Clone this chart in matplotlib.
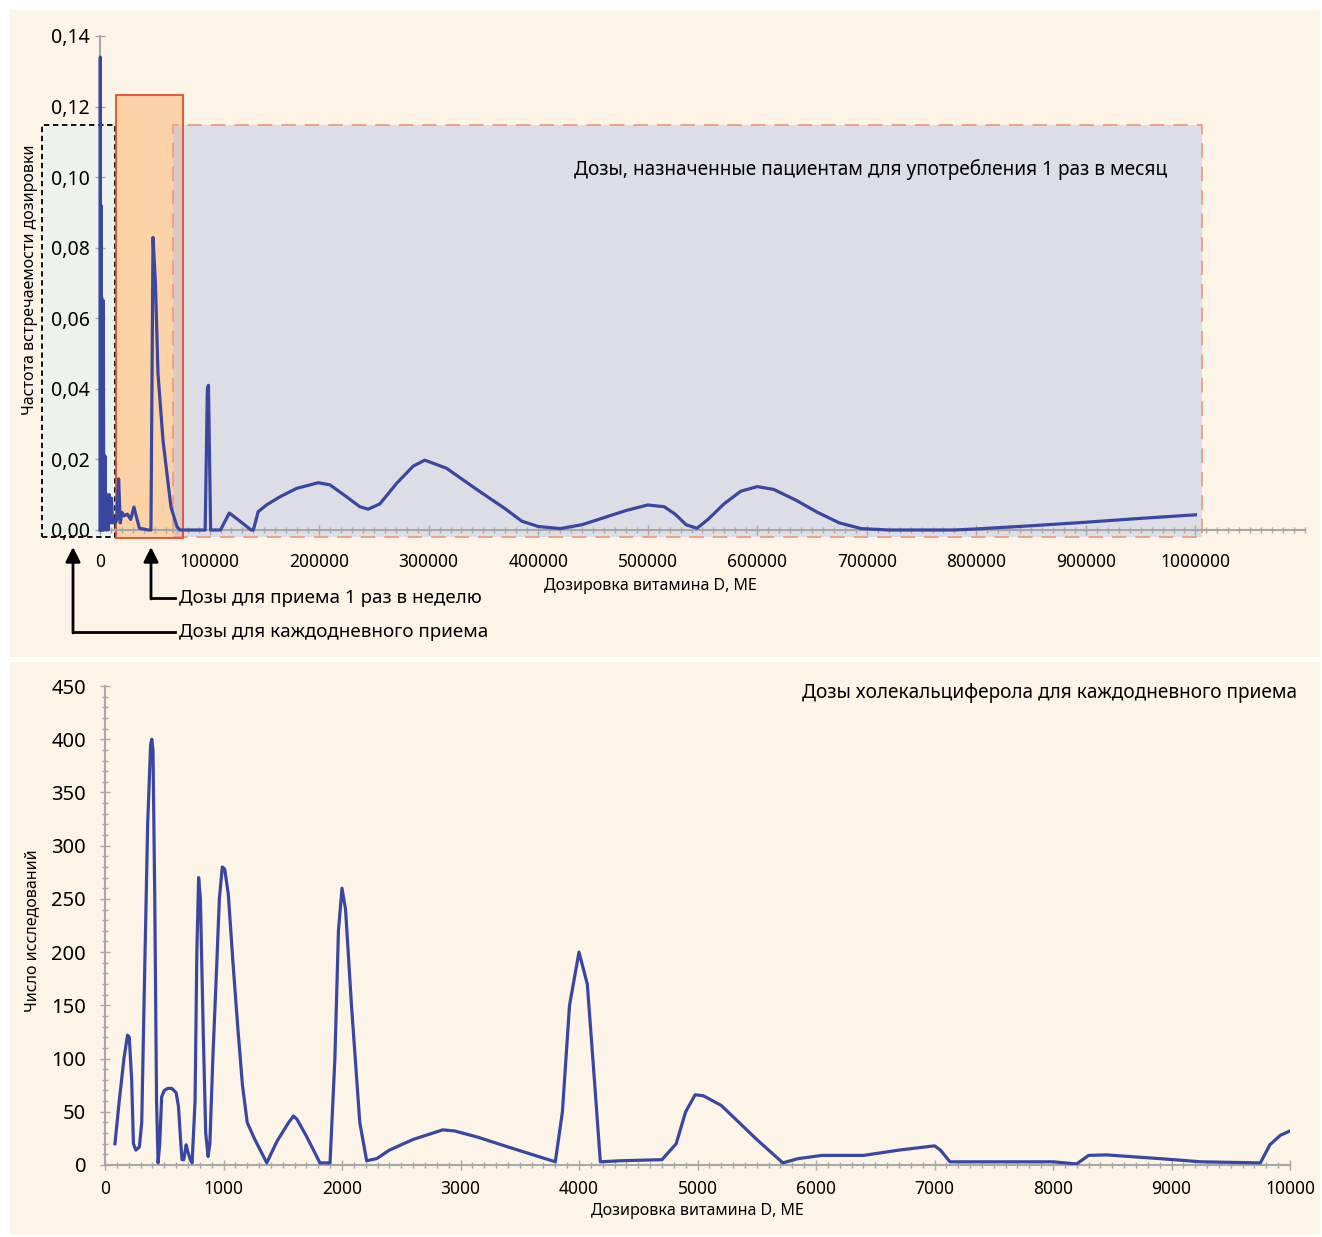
import matplotlib
matplotlib.use("Agg")
import matplotlib.pyplot as plt
from matplotlib.patches import Rectangle
from matplotlib.lines import Line2D
from matplotlib.ticker import MultipleLocator, FixedLocator

plt.rcParams['font.family'] = ['Noto Sans', 'DejaVu Sans']

# верхний график: частота встречаемости дозировки (МЕ)
dose_all = [0, 300, 600, 900, 1200, 1500, 2500, 3000, 3500, 4500, 5500, 6500,
            7500, 8500, 9500, 10500, 11500, 13000, 14000, 15500, 17000, 18500,
            20000, 22000, 25000, 28000, 31000, 33000, 36000, 44000, 46500,
            48400, 50600, 52900, 57500, 61100, 64800, 70300, 73000,
            88000, 96000, 98000, 99000, 101000, 110000, 118000, 119500, 138000,
            140000, 144400, 152000, 164200, 179500, 199200, 209900, 225100,
            237200, 244800, 255500, 270700, 285900, 296500, 316300, 346700,
            370000, 385000, 400000, 420000, 440000, 460000, 480000, 500000,
            515000, 525000, 535000, 545000, 555000, 570000, 585000, 600000,
            615000, 635000, 655000, 675000, 695000, 720000, 780000, 800000,
            850000, 900000, 950000, 1000000]
freq_all = [0.0, 0.134, 0.0, 0.092, 0.0, 0.066, 0.0, 0.065, 0.0, 0.021, 0.0,
            0.010, 0.0, 0.010, 0.002, 0.009, 0.002, 0.003, 0.002, 0.003, 0.0145,
            0.002, 0.005, 0.004, 0.0045, 0.003, 0.0065, 0.004, 0.0005, 0.0, 0.0,
            0.0829, 0.070, 0.0445, 0.0255, 0.016, 0.0065, 0.0009, 0.0,
            0.0, 0.0, 0.040, 0.041, 0.0, 0.0, 0.0048, 0.0045, 0.0,
            0.0, 0.0052, 0.0071, 0.0094, 0.0118, 0.0134, 0.0128, 0.0094,
            0.0066, 0.0059, 0.0074, 0.0132, 0.0181, 0.0198, 0.0175, 0.0109,
            0.006, 0.0025, 0.001, 0.0004, 0.0015, 0.0035, 0.0055, 0.0071,
            0.0066, 0.0045, 0.0015, 0.0005, 0.003, 0.0075, 0.011, 0.0123,
            0.0115, 0.0085, 0.005, 0.002, 0.0004, 0.0, 0.0, 0.0003,
            0.0012, 0.0022, 0.0033, 0.0043]

# нижний график: число исследований для каждодневных доз
dose_daily = [84, 120, 160, 190, 205, 225, 240, 260, 290, 310, 330, 360, 385,
              395, 405, 420, 435, 448, 462, 478, 500, 530, 563, 600, 620, 640,
              650, 665, 685, 700, 720, 735, 760, 775, 790, 805, 830, 850, 870,
              885, 910, 940, 965, 990, 1010, 1040, 1080, 1120, 1160, 1200, 1260,
              1365, 1450, 1550, 1590, 1620, 1700, 1814, 1899, 1940, 1970, 2000,
              2030, 2080, 2150, 2208, 2293, 2400, 2600, 2850, 2950, 3150, 3400,
              3800, 3860, 3920, 4000, 4070, 4130, 4180, 4350, 4700, 4820, 4900,
              4980, 5050, 5200, 5500, 5720, 5850, 6050, 6400, 6700, 7000, 7050,
              7130, 7500, 8000, 8200, 8300, 8450, 8900, 9250, 9750, 9830, 9920,
              10000]
n_studies = [20, 60, 100, 122, 120, 80, 20, 14, 17, 40, 155, 320, 395,
             400, 390, 250, 60, 2, 20, 64, 70, 72, 72, 68, 55, 20,
             5, 5, 19, 12, 5, 2, 60, 200, 270, 250, 120, 30, 8,
             20, 100, 180, 250, 280, 278, 255, 190, 130, 75, 40, 25,
             2, 22, 40, 46, 43, 27, 2, 2, 100, 220, 260,
             240, 150, 40, 4, 6, 14, 24, 33, 32, 26, 17,
             3, 50, 150, 200, 170, 80, 3, 4, 5, 20, 50,
             66, 65, 56, 24, 2, 6, 9, 9, 14, 18, 14,
             3, 3, 3, 1, 9, 9.5, 6, 3, 2, 19, 28,
             32]

W, H = 1322, 1237
cream = '#fdf4e8'
line_c = '#3a47a0'
tick_c = '#a8a8a8'

fig = plt.figure(figsize=(W / 100, H / 100), dpi=100, facecolor='white')
fig.patches.append(Rectangle((10 / W, 1 - 657 / H), 1310 / W, 647 / H,
                             transform=fig.transFigure, facecolor=cream,
                             edgecolor='none', zorder=-5))
fig.patches.append(Rectangle((10 / W, 1 - 1235 / H), 1310 / W, 573 / H,
                             transform=fig.transFigure, facecolor=cream,
                             edgecolor='none', zorder=-5))


def style_axes(ax):
    ax.set_facecolor('none')
    for s in ['top', 'right']:
        ax.spines[s].set_visible(False)
    for s in ['left', 'bottom']:
        ax.spines[s].set_color(tick_c)
        ax.spines[s].set_linewidth(1.5)
    ax.tick_params(which='both', direction='inout', color=tick_c, width=1)
    ax.tick_params(which='major', length=7, labelsize=12.5)
    ax.tick_params(which='minor', length=4)


# ---------- верхний график ----------
ax1 = fig.add_axes([100 / W, 1 - 530 / H, 1205 / W, 494 / H])
style_axes(ax1)
ax1.set_xlim(0, 1100000)
ax1.set_ylim(0, 0.14)

# области доз
ax1.add_patch(Rectangle((-53000, -0.002), 66700, 0.1168, facecolor='#eef2ec',
                        edgecolor='black', linestyle=(0, (3, 2)), lw=1.3,
                        clip_on=False, zorder=1))
ax1.add_patch(Rectangle((14600, -0.0023), 61100, 0.1256, facecolor='#fcd3a6',
                        edgecolor='none', clip_on=False, zorder=1))
ax1.add_patch(Rectangle((66600, -0.002), 939800, 0.1168, facecolor='#b4c1e2',
                        alpha=0.45, edgecolor='none', clip_on=False, zorder=1.2))
ax1.add_patch(Rectangle((66600, -0.002), 939800, 0.1168, facecolor='none',
                        edgecolor='#f29a82', linestyle=(0, (8, 5)), lw=1.3,
                        clip_on=False, zorder=1.3))
ax1.add_patch(Rectangle((14600, -0.0023), 61100, 0.1256, facecolor='none',
                        edgecolor='#e84a2c', lw=1.3, clip_on=False, zorder=1.4))

ax1.plot(dose_all, freq_all, color=line_c, lw=2.3, zorder=3,
         solid_joinstyle='round', clip_on=False)

ax1.xaxis.set_major_locator(FixedLocator(range(0, 1000001, 100000)))
ax1.set_xticklabels(['0'] + [str(v) for v in range(100000, 1000001, 100000)])
ax1.xaxis.set_minor_locator(MultipleLocator(10000))
ax1.yaxis.set_major_locator(FixedLocator([i * 0.02 for i in range(8)]))
ax1.set_yticklabels(['0,00', '0,02', '0,04', '0,06', '0,08', '0,10', '0,12', '0,14'])
ax1.tick_params(axis='x', pad=13)
ax1.tick_params(axis='y', pad=4, labelsize=14)
ax1.spines['bottom'].set_bounds(0, 1100000)
ax1.set_xlabel('Дозировка витамина D, МЕ', fontsize=11.5)
ax1.xaxis.set_label_coords(0.457, -0.097)
ax1.set_ylabel('Частота встречаемости дозировки', fontsize=11.5)
ax1.yaxis.set_label_coords(-62 / 1205, 0.506)
ax1.text(0.886, 0.729, 'Дозы, назначенные пациентам для употребления 1 раз в месяц',
         transform=ax1.transAxes, ha='right', va='center', fontsize=13.7, zorder=4)

# стрелки-подписи
arrow_kw = dict(arrowstyle='-|>', color='black', lw=2, mutation_scale=22,
                shrinkA=0, shrinkB=0)
for x0, y0, label in [(73, 632, 'Дозы для каждодневного приема'),
                      (151, 598, 'Дозы для приема 1 раз в неделю')]:
    fig.add_artist(Line2D([x0 / W, 175 / W], [1 - y0 / H, 1 - y0 / H],
                          transform=fig.transFigure, color='black', lw=2))
    ax1.annotate('', xy=(x0, H - 547), xytext=(x0, H - y0 - 1),
                 xycoords='figure pixels', textcoords='figure pixels',
                 arrowprops=arrow_kw, annotation_clip=False)
    fig.text(179 / W, 1 - y0 / H, label, ha='left', va='center', fontsize=13.5)

# ---------- нижний график ----------
ax2 = fig.add_axes([105 / W, 1 - 1165 / H, 1185 / W, 479 / H])
style_axes(ax2)
ax2.set_xlim(0, 10000)
ax2.set_ylim(0, 450)
ax2.plot(dose_daily, n_studies, color=line_c, lw=2.3, zorder=3,
         solid_joinstyle='round')
ax2.xaxis.set_major_locator(MultipleLocator(1000))
ax2.xaxis.set_minor_locator(MultipleLocator(100))
ax2.yaxis.set_major_locator(MultipleLocator(50))
ax2.yaxis.set_minor_locator(MultipleLocator(10))
ax2.tick_params(axis='x', pad=7)
ax2.tick_params(axis='y', pad=10, labelsize=14.5)
ax2.set_xlabel('Дозировка витамина D, МЕ', fontsize=11.5, labelpad=4)
ax2.set_ylabel('Число исследований', fontsize=11.5)
ax2.yaxis.set_label_coords(-65 / 1185, 0.49)
ax2.text(1.006, 0.985, 'Дозы холекальциферола для каждодневного приема',
         transform=ax2.transAxes, ha='right', va='center', fontsize=13.7)

fig.savefig('out.png', dpi=100, facecolor='white')
